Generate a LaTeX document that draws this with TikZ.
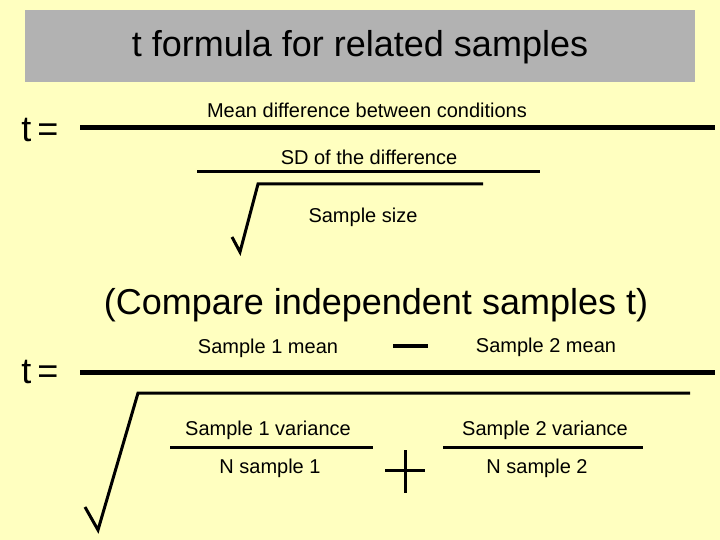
\documentclass[tikz,border=0pt]{standalone}
\usepackage{fontspec}
\setmainfont{Liberation Sans}
\definecolor{bg}{HTML}{FFFFC0}
\definecolor{tb}{HTML}{B2B2B2}
\begin{document}
\begin{tikzpicture}[x=1pt,y=-1pt,
  sm/.style={font=\fontsize{20}{22}\selectfont},
  big/.style={font=\fontsize{36}{40}\selectfont},
  bar/.style={line width=5pt},
  thin/.style={line width=3pt}]
\fill[bg] (0,0) rectangle (720,540);
\useasboundingbox (0,0) rectangle (720,540);
\fill[tb] (25,10) rectangle (695,82);
\node[big] (title) at (360,47) {t formula for related samples};
\node[big] (t1) at (40,130) {t\,=};
\node[sm] (mean) at (367,110) {Mean difference between conditions};
\coordinate (a1) at (80,128); \coordinate (a2) at (715,128);
\draw[bar] (a1) -- (a2);
\node[sm] (sd) at (369,157) {SD of the difference};
\coordinate (b1) at (197,172); \coordinate (b2) at (540,172);
\draw[thin] (b1) -- (b2);
\coordinate (s1) at (232,237); \coordinate (s2) at (240,252);
\coordinate (s3) at (258,184); \coordinate (s4) at (483,184);
\draw[thin,line join=miter] (s1) -- (s2) -- (s3) -- (s4);
\node[sm] (n) at (363,217) {Sample size};
\node[big] (cmp) at (376,305) {(Compare independent samples t)};
\node[big] (t2) at (40,372) {t\,=};
\node[sm] (m1) at (268,348) {Sample 1 mean};
\coordinate (mi1) at (393,346); \coordinate (mi2) at (428,346);
\draw[line width=4pt] (mi1) -- (mi2);
\node[sm] (m2) at (546,347) {Sample 2 mean};
\coordinate (c1) at (80,372); \coordinate (c2) at (715,372);
\draw[bar] (c1) -- (c2);
\coordinate (r1) at (85,507); \coordinate (r2) at (98,530);
\coordinate (r3) at (138,393); \coordinate (r4) at (690,393);
\draw[thin,line join=miter] (r1) -- (r2) -- (r3) -- (r4);
\node[sm] (v1) at (268,430) {Sample 1 variance};
\coordinate (d1) at (170,447); \coordinate (d2) at (373,447);
\draw[thin] (d1) -- (d2);
\node[sm] (n1) at (270,468) {N sample 1};
\coordinate (p1) at (385,470); \coordinate (p2) at (425,470);
\coordinate (p3) at (405,450); \coordinate (p4) at (405,493);
\draw[line width=3pt] (p1) -- (p2) (p3) -- (p4);
\node[sm] (v2) at (545,430) {Sample 2 variance};
\coordinate (e1) at (443,447); \coordinate (e2) at (643,447);
\draw[thin] (e1) -- (e2);
\node[sm] (n2) at (537,468) {N sample 2};
\end{tikzpicture}
\end{document}
